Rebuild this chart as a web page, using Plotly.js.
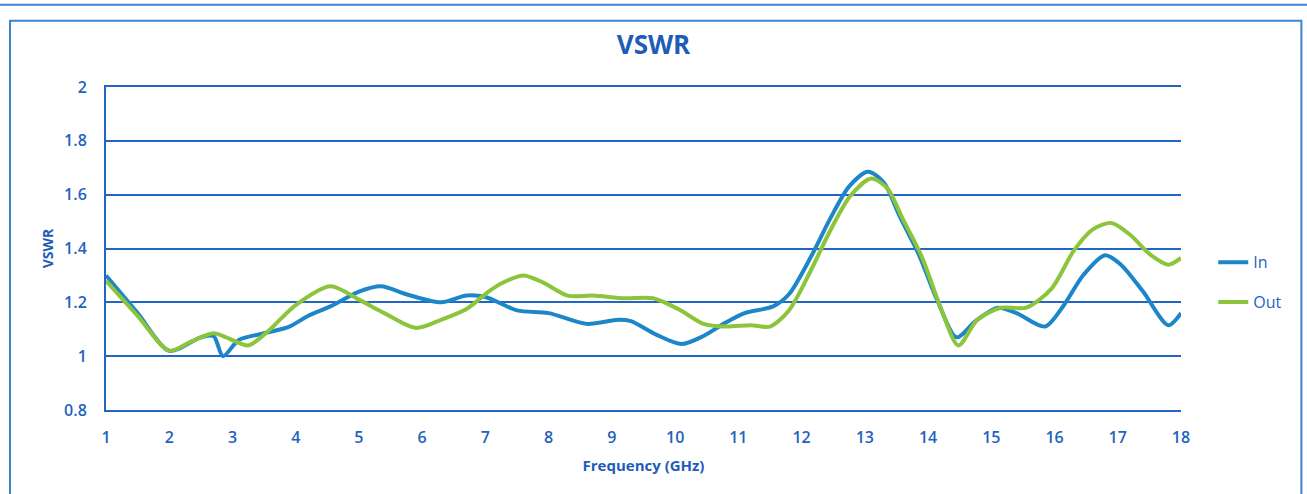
<!DOCTYPE html>
<html>
<head>
<meta charset="utf-8">
<script src="https://cdn.plot.ly/plotly-3.0.1.min.js"></script>
<style>html,body{margin:0;padding:0;background:#fff;}#chart{width:1307px;height:494px;}</style>
</head>
<body>
<div id="chart"></div>
<script>
const freqIn = [1.0,1.5,2.0,2.5,2.7,2.85,3.1,3.5,3.9,4.2,4.55,5.0,5.35,5.75,6.3,6.7,7.0,7.5,8.0,8.6,9.1,9.3,9.7,10.1,10.45,10.8,11.1,11.55,11.8,12.15,12.45,12.75,13.05,13.3,13.55,13.85,14.15,14.45,14.75,15.1,15.4,15.85,16.15,16.45,16.8,17.05,17.4,17.8,18.0];
const vswrIn = [1.30,1.16,1.02,1.07,1.075,1.00,1.06,1.085,1.11,1.15,1.185,1.24,1.26,1.23,1.20,1.225,1.22,1.17,1.16,1.12,1.135,1.13,1.08,1.045,1.075,1.125,1.16,1.185,1.23,1.37,1.51,1.63,1.685,1.645,1.52,1.38,1.205,1.07,1.13,1.18,1.16,1.11,1.19,1.30,1.375,1.34,1.24,1.115,1.16];
const freqOut = [1.0,1.5,2.0,2.35,2.7,2.9,3.25,3.55,4.0,4.55,5.0,5.4,5.9,6.3,6.7,7.05,7.25,7.6,7.9,8.3,8.7,9.2,9.65,10.05,10.45,10.8,11.2,11.5,11.8,12.15,12.45,12.77,13.1,13.35,13.6,13.9,14.2,14.48,14.78,15.15,15.55,15.95,16.3,16.6,16.9,17.2,17.5,17.8,18.0];
const vswrOut = [1.28,1.15,1.02,1.055,1.085,1.07,1.04,1.09,1.19,1.26,1.21,1.16,1.105,1.135,1.175,1.24,1.27,1.30,1.275,1.225,1.225,1.215,1.215,1.175,1.12,1.11,1.115,1.11,1.17,1.32,1.465,1.595,1.66,1.625,1.51,1.37,1.18,1.04,1.135,1.18,1.18,1.25,1.39,1.47,1.495,1.45,1.38,1.34,1.365];
const xTicks = [1,2,3,4,5,6,7,8,9,10,11,12,13,14,15,16,17,18];
const yTicks = [0.8,1,1.2,1.4,1.6,1.8,2];
const yTickText = ['0.8','1','1.2','1.4','1.6','1.8','2'];

const txt = '#1f63c0';
const fam = 'Open Sans, Noto Sans, sans-serif';
const traces = [
  {x: freqIn, y: vswrIn, name: 'In', mode: 'lines', legendgroup: 'a',
   line: {color: '#1c86c8', width: 4, shape: 'spline', smoothing: 0.8}},
  {x: freqOut, y: vswrOut, name: 'Out', mode: 'lines', legendgroup: 'b',
   line: {color: '#8cc43c', width: 4, shape: 'spline', smoothing: 0.8}}
];
const layout = {
  width: 1307, height: 494,
  margin: {l: 106, r: 126, t: 87, b: 84},
  paper_bgcolor: '#ffffff', plot_bgcolor: '#ffffff',
  font: {family: fam, color: txt, size: 16, weight: 600},
  title: {text: 'VSWR', font: {family: fam, size: 26, color: '#1f5cb8', weight: 700}, x: 0.5, xanchor: 'center', y: 0.91, yanchor: 'middle'},
  xaxis: {
    range: [1, 18], tickvals: xTicks, ticktext: xTicks.map(String),
    showgrid: false, zeroline: false, showline: true, mirror: true, linecolor: '#2166c4', linewidth: 2,
    ticks: '', ticklen: 0, ticklabelstandoff: 12, tickfont: {family: fam, size: 16, color: txt, weight: 600},
    title: {text: 'Frequency (GHz)', font: {family: fam, size: 15, color: '#1f5cb8', weight: 700}, standoff: 13},
    automargin: false
  },
  yaxis: {
    range: [0.8, 2], tickvals: yTicks, ticktext: yTickText,
    showgrid: true, gridcolor: '#2166c4', gridwidth: 2, zeroline: false,
    showline: true, linecolor: '#2166c4', linewidth: 2, ticks: '', ticklen: 0, ticklabelstandoff: 14,
    tickfont: {family: fam, size: 16, color: txt, weight: 600},
    title: {text: 'VSWR', font: {family: fam, size: 14, color: '#1f5cb8', weight: 700}, standoff: 7},
    automargin: false
  },
  showlegend: true,
  legend: {x: 1.03, xanchor: 'left', y: 0.51, yanchor: 'top', traceorder: 'grouped', tracegroupgap: 16,
           font: {family: fam, size: 16, color: txt, weight: 500}, bgcolor: 'rgba(0,0,0,0)'},
  shapes: [
    {type: 'rect', xref: 'paper', yref: 'paper', x0: -0.0893, x1: 1.112, y0: -0.3, y1: 1.205,
     line: {color: '#3b86cc', width: 2}, fillcolor: 'rgba(0,0,0,0)', layer: 'below'},
    {type: 'line', xref: 'paper', yref: 'paper', x0: -0.1, x1: 1.12, y0: 1.255, y1: 1.255,
     line: {color: '#3b86cc', width: 2}}
  ]
};
Plotly.newPlot('chart', traces, layout, {displayModeBar: false, staticPlot: true});
</script>
</body>
</html>
